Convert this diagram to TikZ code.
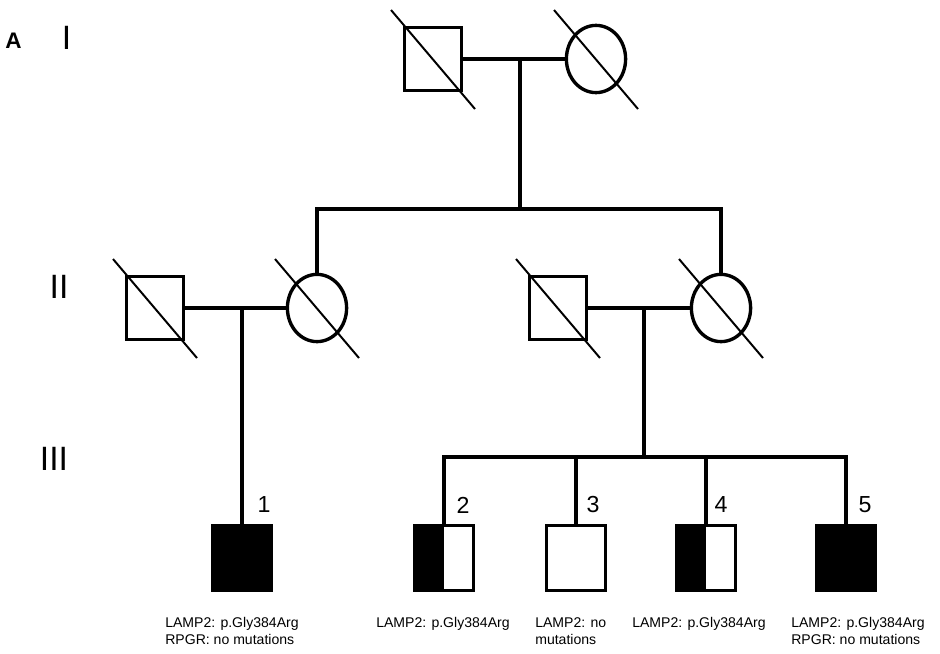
\documentclass[tikz,border=0pt]{standalone}
\usepackage{fontspec}
\setmainfont{Liberation Sans}
\usetikzlibrary{shapes.geometric}

\begin{document}
\begin{tikzpicture}
    [x=0.025cm, y=-0.025cm, line cap=butt,
    % Styles
    link/.style={line width=2.4pt},
    male/.style={draw, rectangle, line width=2.4pt, inner sep=0pt,
                 minimum width=1.43cm, minimum height=1.56cm},
    female/.style={draw, ellipse, line width=2.4pt, inner sep=0pt,
                   minimum width=1.48cm, minimum height=1.68cm},
    child/.style={male, minimum width=1.46cm, minimum height=1.63cm},
    affected/.style={child, fill=black},
    carrier/.style={child, path picture={\fill (path picture bounding box.south west)
                    rectangle (path picture bounding box.north);}},
    deceased/.style={line width=1.4pt},
    generation/.style={font=\fontsize{24}{28}\selectfont, inner sep=0pt},
    number/.style={font=\fontsize{16.5}{19}\selectfont, inner sep=0pt},
    result/.style={font=\fontsize{10}{12.4}\selectfont, align=left,
                   anchor=north west, inner sep=0pt}]

    \useasboundingbox (0,0) rectangle (940,653);

    % Generation I
    \node[male] (gIm) at (433,59) {};
    \node[female] (gIf) at (596,59) {};

    % Generation II
    \node[male] (gIIam) at (155,308) {};
    \node[female] (gIIaf) at (317,308) {};
    \node[male] (gIIbm) at (558,308) {};
    \node[female] (gIIbf) at (721,308) {};

    % Generation III
    \node[affected] (c1) at (242,558) {};
    \node[carrier] (c2) at (444,558) {};
    \node[child] (c3) at (576,558) {};
    \node[carrier] (c4) at (706,558) {};
    \node[affected] (c5) at (846,558) {};

    % Coordinates
    \coordinate (mI) at (520,59);
    \coordinate (sI) at (520,209);
    \coordinate (mIIa) at (242,308);
    \coordinate (mIIb) at (644,308);
    \coordinate (sIII) at (644,457);

    % Lines of descent
    \draw[link] (gIm) -- (gIf);
    \draw[link] (mI) -- (sI);
    \draw[link] (gIIaf.north) |- (sI) -| (gIIbf.north);

    \draw[link] (gIIam) -- (gIIaf);
    \draw[link] (mIIa) -- (c1);

    \draw[link] (gIIbm) -- (gIIbf);
    \draw[link] (mIIb) -- (sIII);
    \draw[link] (c2.north) |- (sIII) -| (c5.north);
    \foreach \c in {c3, c4}
        \draw[link] (\c.north) -- (\c.north |- sIII);

    % Deceased
    \foreach \n in {gIm, gIf, gIIam, gIIaf, gIIbm, gIIbf}
        \draw[deceased] ([shift={(-42,-49)}]\n.center) -- ([shift={(42,50)}]\n.center);

    % Panel and generations
    \node[font=\bfseries\fontsize{16}{18}\selectfont, inner sep=0pt] (panel) at (13.5,41) {A};
    \node[generation] (genI) at (66.5,37.5) {I};
    \node[generation] (genII) at (59,286.5) {II};
    \node[generation] (genIII) at (54,458.5) {III};

    % Individuals
    \foreach \c/\dx/\t in {c1/22/1, c2/19/2, c3/17/3, c4/15/4, c5/19/5}
        \node[number] (n\t) at ([shift={(\dx,-53)}]\c.center) {\t};

    % Genotypes
    \node[result] (r1) at (165,617) {LAMP2: p.Gly384Arg\\RPGR: no mutations};
    \node[result] (r2) at (376,617) {LAMP2: p.Gly384Arg};
    \node[result] (r3) at (535,617) {LAMP2: no\\mutations};
    \node[result] (r4) at (632,617) {LAMP2: p.Gly384Arg};
    \node[result] (r5) at (791,617) {LAMP2: p.Gly384Arg\\RPGR: no mutations};

\end{tikzpicture}
\end{document}
